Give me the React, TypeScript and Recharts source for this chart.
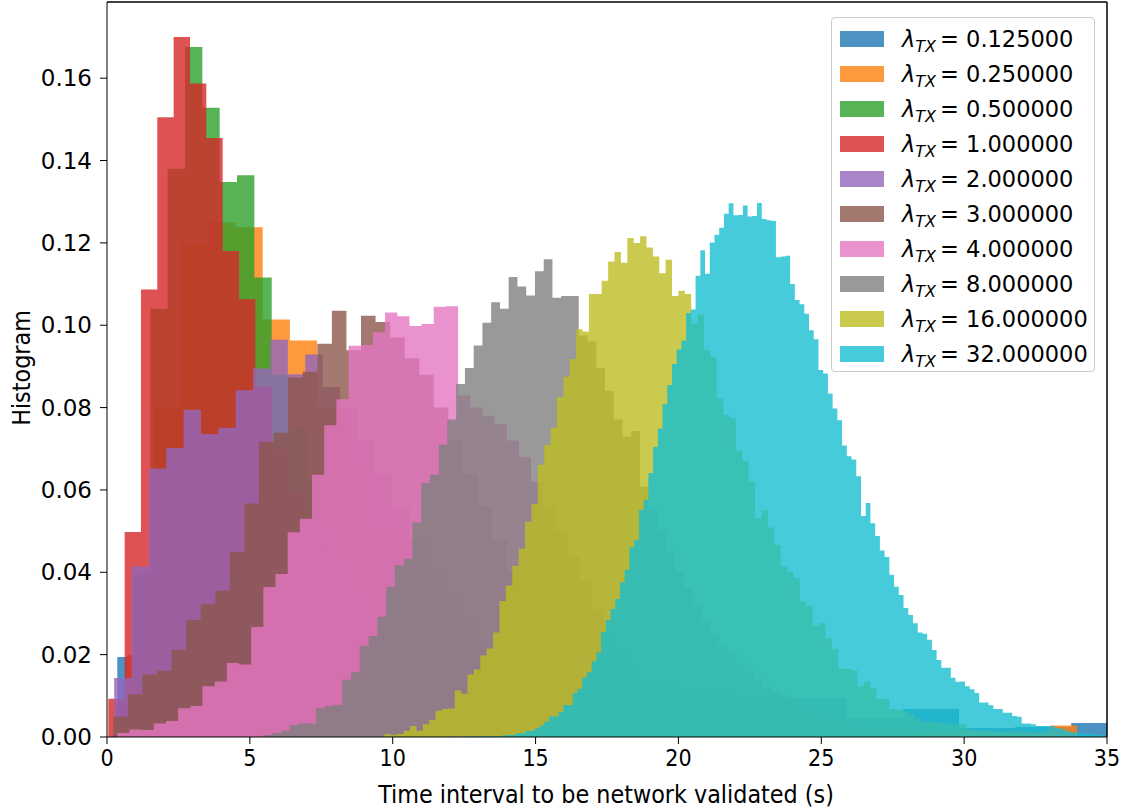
import { Area, ComposedChart, Legend, ReferenceLine, XAxis, YAxis } from "recharts";

// lambda_TX values, one histogram each (drawn in this order)
const LAMBDAS = ["0.125000", "0.250000", "0.500000", "1.000000", "2.000000", "3.000000", "4.000000", "8.000000", "16.000000", "32.000000"];
const COLORS = ["#1f77b4", "#ff7f0e", "#2ca02c", "#d62728", "#9467bd", "#8c564b", "#e377c2", "#7f7f7f", "#bcbd22", "#17becf"];

// left edge of the first bin and bin width (s) per histogram
const BIN_START = [0.36, 0.7, 0.302, 0.045, 0.25, 0.22, 0.36, 5.48, 9.71, 12.0];
const BIN_WIDTH = [1.964, 0.95, 0.607, 0.572, 0.608, 0.51, 0.426, 0.3064, 0.2237, 0.1654];

// density per bin
const H_0125 = [0.0194, 0.035, 0.04, 0.035, 0.03, 0.025, 0.021, 0.018, 0.015, 0.013, 0.011, 0.0095, 0.0095, 0.0046, 0.0068, 0.0022, 0.0025, 0.0034];
const H_025 = [0.02, 0.08, 0.12, 0.125, 0.1238, 0.1014, 0.0963, 0.08, 0.065, 0.05, 0.04, 0.032, 0.025, 0.02, 0.016, 0.012, 0.01, 0.008, 0.006, 0.005, 0.004, 0.0035, 0.003, 0.0028, 0.0025, 0.0022, 0.002, 0.002, 0.0018, 0.0016, 0.0015, 0.0014, 0.0013, 0.0012, 0.0028];
const H_05 = [0.008, 0.04, 0.104, 0.138, 0.1676, 0.1528, 0.1348, 0.1364, 0.1116, 0.088, 0.075, 0.062, 0.052, 0.043, 0.036, 0.03, 0.025, 0.02, 0.016, 0.013, 0.01, 0.008, 0.006, 0.005, 0.004, 0.003, 0.002, 0.0015, 0.001];
const H_1 = [0.0093, 0.0498, 0.1087, 0.1505, 0.17, 0.1587, 0.1455, 0.118, 0.1063, 0.085, 0.07, 0.06, 0.05, 0.045, 0.04, 0.035, 0.03, 0.027, 0.024, 0.021, 0.019, 0.017, 0.015, 0.013, 0.012, 0.011, 0.01, 0.009, 0.008, 0.007, 0.006, 0.005, 0.005, 0.004, 0.004, 0.003, 0.003, 0.002, 0.002];
const H_2 = [0.0143, 0.0414, 0.0652, 0.0702, 0.0795, 0.0736, 0.0751, 0.0842, 0.0895, 0.0965, 0.0881, 0.0929, 0.085, 0.08, 0.072, 0.064, 0.056, 0.048, 0.04, 0.034, 0.028, 0.023, 0.019, 0.015, 0.012, 0.009, 0.007, 0.005, 0.004, 0.003, 0.002, 0.002, 0.001];
const H_3 = [0.005, 0.0104, 0.0152, 0.0161, 0.0212, 0.0284, 0.0323, 0.0355, 0.0449, 0.0567, 0.0717, 0.0739, 0.0873, 0.0887, 0.0955, 0.1035, 0.0939, 0.1023, 0.1008, 0.097, 0.092, 0.088, 0.08, 0.072, 0.064, 0.056, 0.048, 0.04, 0.033, 0.027, 0.022, 0.017, 0.013, 0.01, 0.008, 0.006, 0.004, 0.003, 0.002, 0.002, 0.001];
const H_4 = [0.001, 0.0018, 0.0017, 0.0033, 0.0039, 0.007, 0.0075, 0.0123, 0.0135, 0.018, 0.0176, 0.0267, 0.0364, 0.0396, 0.0497, 0.053, 0.0637, 0.0757, 0.082, 0.095, 0.0952, 0.0983, 0.1031, 0.1022, 0.0998, 0.1003, 0.1045, 0.1046, 0.083, 0.08, 0.078, 0.076, 0.072, 0.068, 0.062, 0.056, 0.05, 0.044, 0.038, 0.031, 0.025, 0.02, 0.016, 0.012, 0.009, 0.007, 0.005, 0.004, 0.003, 0.002, 0.0015, 0.001];
const H_8 = [0.0005, 0.001, 0.0015, 0.0029, 0.0033, 0.0033, 0.007, 0.0075, 0.0078, 0.0139, 0.0157, 0.0221, 0.0245, 0.0292, 0.0365, 0.0418, 0.0433, 0.0521, 0.0617, 0.0637, 0.071, 0.0771, 0.0857, 0.0896, 0.0951, 0.1006, 0.1056, 0.104, 0.1117, 0.1094, 0.1072, 0.1131, 0.116, 0.1067, 0.1071, 0.1071, 0.0975, 0.0961, 0.0896, 0.084, 0.0771, 0.073, 0.0743, 0.0608, 0.055, 0.05, 0.045, 0.04, 0.036, 0.032, 0.028, 0.025, 0.022, 0.02, 0.018, 0.016, 0.014, 0.012, 0.011, 0.01, 0.009, 0.008, 0.007, 0.006, 0.005, 0.0045, 0.004, 0.0035, 0.003, 0.0025, 0.002, 0.0018, 0.0015, 0.0012, 0.001];
const H_16 = [0.0007, 0.0005, 0.0007, 0.0015, 0.0027, 0.0015, 0.0031, 0.0042, 0.0064, 0.0068, 0.0069, 0.0113, 0.0105, 0.0152, 0.0164, 0.0198, 0.0215, 0.0254, 0.033, 0.0368, 0.0415, 0.0457, 0.0523, 0.0566, 0.0661, 0.0709, 0.0751, 0.0826, 0.0875, 0.0918, 0.099, 0.0985, 0.1076, 0.1076, 0.1108, 0.1155, 0.1178, 0.1152, 0.1212, 0.12, 0.1216, 0.1189, 0.1167, 0.1126, 0.1159, 0.1071, 0.1084, 0.1076, 0.1004, 0.1026, 0.0939, 0.0922, 0.0824, 0.0782, 0.0775, 0.0696, 0.067, 0.0619, 0.0531, 0.055, 0.0509, 0.0467, 0.0415, 0.0402, 0.0387, 0.0329, 0.0319, 0.0272, 0.0276, 0.024, 0.0213, 0.0166, 0.0165, 0.0162, 0.0123, 0.0135, 0.0119, 0.0093, 0.0093, 0.0068, 0.0066, 0.0064, 0.0055, 0.0045, 0.0037, 0.0037, 0.0036, 0.0033, 0.0033, 0.0031, 0.0031, 0.0018, 0.0017, 0.0015, 0.0014, 0.0012, 0.0012, 0.001, 0.001, 0.0009, 0.0008, 0.0008, 0.0007, 0.0006, 0.0005, 0.0005, 0.0004];
const H_32 = [0.0001, 0.0001, 0.0, 0.0001, 0.0001, 0.0002, 0.0001, 0.0002, 0.0002, 0.0002, 0.0002, 0.0004, 0.0005, 0.0005, 0.0009, 0.0009, 0.0015, 0.0015, 0.0021, 0.0028, 0.0037, 0.005, 0.005, 0.006, 0.0078, 0.0078, 0.0107, 0.0117, 0.0144, 0.0157, 0.0184, 0.0205, 0.0255, 0.0284, 0.0311, 0.0335, 0.0376, 0.0406, 0.0461, 0.0478, 0.0551, 0.0576, 0.0641, 0.0704, 0.0749, 0.0808, 0.0855, 0.0906, 0.0941, 0.0963, 0.103, 0.1038, 0.112, 0.1182, 0.1125, 0.1201, 0.122, 0.1237, 0.1271, 0.1296, 0.1267, 0.1268, 0.1291, 0.1264, 0.1265, 0.1297, 0.1258, 0.1255, 0.1253, 0.1165, 0.1167, 0.1169, 0.11, 0.1061, 0.1051, 0.1028, 0.0988, 0.0966, 0.0891, 0.0883, 0.0834, 0.0798, 0.0769, 0.0708, 0.0682, 0.0674, 0.0633, 0.0537, 0.0568, 0.0519, 0.0488, 0.0453, 0.0437, 0.0394, 0.0365, 0.0345, 0.0313, 0.0296, 0.0276, 0.0254, 0.0251, 0.0236, 0.0211, 0.0187, 0.0168, 0.0168, 0.0144, 0.0134, 0.0135, 0.0123, 0.0116, 0.0107, 0.0084, 0.0084, 0.0077, 0.0068, 0.0068, 0.0059, 0.0059, 0.0051, 0.0049, 0.0033, 0.0033, 0.0031, 0.0027, 0.0027, 0.0027, 0.0027, 0.0022, 0.002, 0.0015, 0.0012, 0.001, 0.001, 0.0008, 0.0008, 0.0006, 0.0005, 0.0005];

const HEIGHTS = [H_0125, H_025, H_05, H_1, H_2, H_3, H_4, H_8, H_16, H_32];

const X_TICKS = [0, 5, 10, 15, 20, 25, 30, 35];
const Y_TICKS = [0, 0.02, 0.04, 0.06, 0.08, 0.1, 0.12, 0.14, 0.16];
const Y_MAX = 0.1785;

// one point per bin start, plus a closing point at the last bin edge
function toSteps(start: number, width: number, values: number[]) {
  const pts = values.map((v, i) => ({ t: start + i * width, h: v }));
  pts.push({ t: start + values.length * width, h: 0 });
  return pts;
}

const SERIES = LAMBDAS.map((lam, i) => ({
  lam,
  color: COLORS[i],
  data: toSteps(BIN_START[i], BIN_WIDTH[i], HEIGHTS[i]),
}));

const FONT = "DejaVu Sans, sans-serif";
const NARROW = "DejaVu Sans Condensed, Liberation Sans Narrow, DejaVu Sans, sans-serif";

function LegendBox() {
  return (
    <div
      style={{
        width: 262,
        padding: "3px 0 0 0",
        border: "1px solid #cccccc",
        borderRadius: 4,
        background: "rgba(255,255,255,0.8)",
        fontFamily: FONT,
        fontSize: 22.5,
        color: "#000",
        boxSizing: "content-box",
      }}
    >
      {SERIES.map((s) => (
        <div key={s.lam} style={{ height: 35, display: "flex", alignItems: "center" }}>
          <span
            style={{
              width: 44,
              height: 16,
              marginLeft: 8,
              marginRight: 18,
              background: s.color,
              opacity: 0.8,
              flex: "none",
            }}
          />
          <span style={{ whiteSpace: "nowrap" }}>
            <i>λ</i>
            <i style={{ fontSize: 16, position: "relative", top: 5 }}>TX</i>
            <span style={{ marginLeft: 4 }}>= {s.lam}</span>
          </span>
        </div>
      ))}
    </div>
  );
}

export default function App() {
  return (
    <div style={{ position: "absolute", left: 0, top: 0, width: 1126, height: 812, background: "#fff" }}>
      <ComposedChart width={1126} height={812} margin={{ top: 2, right: 19, bottom: 0, left: 0 }}>
        <XAxis
          dataKey="t"
          type="number"
          domain={[0, 35]}
          ticks={X_TICKS}
          allowDataOverflow
          height={75}
          tickSize={7}
          tickMargin={6}
          stroke="#000"
          tick={{ fill: "#000", fontSize: 23, fontFamily: NARROW }}
          label={{
            content: () => (
              <text x={606} y={803} textAnchor="middle" fontSize={24.8} fontFamily={NARROW} fill="#000">
                Time interval to be network validated (s)
              </text>
            ),
          }}
        />
        <YAxis
          type="number"
          domain={[0, Y_MAX]}
          ticks={Y_TICKS}
          allowDataOverflow
          width={107}
          tickSize={7}
          tickMargin={8}
          stroke="#000"
          tickFormatter={(v: number) => v.toFixed(2)}
          tick={{ fill: "#000", fontSize: 23, fontFamily: FONT }}
          label={{
            content: () => (
              <text
                x={0}
                y={0}
                transform="translate(30,368) rotate(-90)"
                textAnchor="middle"
                fontSize={24.8}
                fontFamily={NARROW}
                fill="#000"
              >
                Histogram
              </text>
            ),
          }}
        />
        {SERIES.map((s) => (
          <Area
            key={s.lam}
            data={s.data}
            dataKey="h"
            name={s.lam}
            type="stepAfter"
            fill={s.color}
            fillOpacity={0.8}
            stroke="none"
            isAnimationActive={false}
            dot={false}
            activeDot={false}
          />
        ))}
        <ReferenceLine y={Y_MAX} stroke="#000" strokeWidth={1.5} />
        <ReferenceLine x={35} stroke="#000" strokeWidth={1.5} />
        <Legend
          layout="vertical"
          align="center"
          verticalAlign="middle"
          wrapperStyle={{ left: 831, top: 17, width: 264 }}
          content={() => <LegendBox />}
        />
      </ComposedChart>
    </div>
  );
}
